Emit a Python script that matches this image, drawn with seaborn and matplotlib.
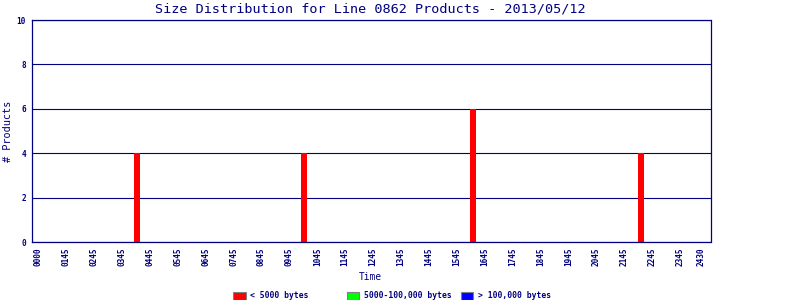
import matplotlib
matplotlib.use("Agg")
import matplotlib.pyplot as plt
from matplotlib.patches import Rectangle
import seaborn as sns
import pandas as pd

# ---- data ----
title = "Size Distribution for Line 0862 Products - 2013/05/12"
bar_hours = [4.29, 10.29, 16.32, 22.34]      # time of each bar, in hours
small_counts = [4, 4, 6, 4]                  # < 5000 bytes
medium_counts = [0, 0, 0, 0]                 # 5000-100,000 bytes
large_counts = [0, 0, 0, 0]                  # > 100,000 bytes
series_names = ["< 5000 bytes", "5000-100,000 bytes", "> 100,000 bytes"]
series_colors = ["#ff0000", "#00ff00", "#0000ff"]
tick_hours = [0.75 + k for k in range(24)] + [24.5]
tick_labels = ["0000"] + [f"{h:02d}45" for h in range(1, 24)] + ["2430"]
y_ticks = [0, 2, 4, 6, 8, 10]

navy = "#000080"

rows = []
for name, vals in zip(series_names, [small_counts, medium_counts, large_counts]):
    for h, v in zip(bar_hours, vals):
        rows.append({"hour": h, "count": v, "size": name})
df = pd.DataFrame(rows)

sns.set_style("white")
plt.rcParams["font.family"] = ["DejaVu Sans Mono", "DejaVu Sans"]

fig = plt.figure(figsize=(8, 3), dpi=100)
ax = fig.add_axes([31.5 / 800, (300 - 242) / 300, 679 / 800, 222 / 300])

sns.barplot(data=df, x="hour", y="count", hue="size", hue_order=series_names,
            palette=series_colors, native_scale=True, dodge=False,
            width=0.215 / 6.0, errorbar=None, linewidth=0, saturation=1,
            legend=False, ax=ax)

ax.set_xlim(0.516, 24.83)
ax.set_ylim(0, 10)
ax.set_xticks(tick_hours)
ax.set_xticklabels(tick_labels, rotation=90, fontsize=5.6, color=navy,
                   fontweight="bold")
ax.set_yticks(y_ticks)
ax.set_yticklabels([str(v) for v in y_ticks], fontsize=5.6, color=navy,
                   fontweight="bold")
ax.tick_params(axis="both", length=0)
ax.tick_params(axis="x", pad=4)
ax.tick_params(axis="y", pad=4)
ax.yaxis.grid(True, color=navy, linewidth=0.8)
ax.set_axisbelow(True)
for s in ax.spines.values():
    s.set_color(navy)
    s.set_linewidth(0.9)
    s.set_visible(True)

ax.set_xlabel("")
ax.set_ylabel("")
fig.text(370 / 800, 1 - 9 / 300, title, ha="center", va="center",
         fontsize=9.7, color=navy)
fig.text(370 / 800, 1 - 277 / 300, "Time", ha="center", va="center",
         fontsize=6.9, color=navy)
fig.text(8 / 800, 1 - 131 / 300, "# Products", ha="center", va="center",
         rotation=90, fontsize=7.4, color=navy)

# legend
sq_x = [233.3, 347.0, 461.0]
for x0, name, col in zip(sq_x, series_names, series_colors):
    fig.patches.append(Rectangle((x0 / 800, 1 - 299.5 / 300), 12.3 / 800, 8 / 300,
                                 transform=fig.transFigure, facecolor=col,
                                 edgecolor="#808080", linewidth=0.8))
    fig.text((x0 + 16.5) / 800, 1 - 295.5 / 300, name, ha="left", va="center",
             fontsize=5.8, color=navy, fontweight="bold")

fig.savefig("out.png", dpi=100)
